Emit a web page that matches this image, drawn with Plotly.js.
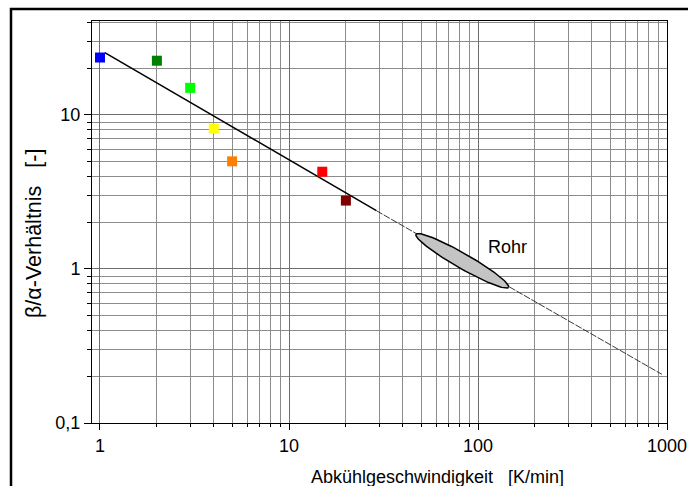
<!DOCTYPE html>
<html><head><meta charset="utf-8">
<script src="https://cdn.plot.ly/plotly-3.0.1.min.js"></script>
<style>html,body{margin:0;padding:0;background:#fff}</style>
</head><body><div id="chart" style="width:688px;height:486px"></div>
<script>
// ---- data ----
const pointX = [1, 2, 3, 4, 5, 15, 20];
const pointY = [23.6, 22.5, 15.0, 8.15, 5.0, 4.28, 2.78];
const pointColors = ['#0000FF', '#008000', '#00FF00', '#FFFF00', '#FF8000', '#FF0000', '#800000'];
const fitSolidX = [1.06, 29];
const fitSolidY = [25.4, 2.39];
const fitThinX = [29, 940];
const fitThinY = [2.39, 0.207];
const ellipseTipX = [47, 145];
const ellipseTipY = [1.68, 0.76];
const ellipseWidthRatio = 0.14;
const labelRohr = 'Rohr';
const labelRohrX = 144;
const labelRohrY = 1.39;
const xTickVals = [1, 10, 100, 1000];
const xTickText = ['1', '10', '100', '1000'];
const yTickVals = [0.1, 1, 10];
const yTickText = ['0,1', '1', '10'];
const xTitle = 'Abkühlgeschwindigkeit\u00a0\u00a0\u00a0[K/min]';
const yTitle = 'β/α-Verhältnis\u00a0\u00a0\u00a0[-]';

// ---- layout geometry ----
const W = 688, H = 486;
const M = {l: 92, r: 21, t: 21, b: 63};
const xRange = [-0.0423, 3.0];
const yRange = [-1, 1.61];
const plotW = W - M.l - M.r, plotH = H - M.t - M.b;

function minorVals(lo, hi) {
  const out = [];
  for (let d = lo; d <= hi; d++) {
    for (let k = 2; k <= 9; k++) out.push(k * Math.pow(10, d));
  }
  return out;
}
const xMinor = minorVals(0, 2);
const yMinor = minorVals(-1, 1).filter(v => v <= 40);

// ellipse outline in screen-proportional log space
function ellipsePoints() {
  const sx = plotW / (xRange[1] - xRange[0]);
  const sy = plotH / (yRange[1] - yRange[0]);
  const u = ellipseTipX.map(v => Math.log10(v) * sx);
  const w = ellipseTipY.map(v => Math.log10(v) * sy);
  const cu = (u[0] + u[1]) / 2, cw = (w[0] + w[1]) / 2;
  const a = Math.hypot(u[1] - u[0], w[1] - w[0]) / 2;
  const b = a * ellipseWidthRatio;
  const th = Math.atan2(w[1] - w[0], u[1] - u[0]);
  const xs = [], ys = [];
  for (let i = 0; i <= 120; i++) {
    const t = 2 * Math.PI * i / 120;
    const pu = cu + a * Math.cos(t) * Math.cos(th) - b * Math.sin(t) * Math.sin(th);
    const pw = cw + a * Math.cos(t) * Math.sin(th) + b * Math.sin(t) * Math.cos(th);
    xs.push(Math.pow(10, pu / sx));
    ys.push(Math.pow(10, pw / sy));
  }
  return {xs, ys};
}
const ell = ellipsePoints();

const font = 'Arial, "Liberation Sans", sans-serif';

const traces = [
  {x: fitSolidX, y: fitSolidY, mode: 'lines', line: {color: '#000', width: 1.5}, hoverinfo: 'skip'},
  {x: fitThinX, y: fitThinY, mode: 'lines', line: {color: '#222', width: 0.9, dash: '7px,1.5px'}, hoverinfo: 'skip'},
  {x: ell.xs, y: ell.ys, mode: 'lines', fill: 'toself', fillcolor: '#C4C4C4', line: {color: '#000', width: 1.5}},
  {x: pointX, y: pointY, mode: 'markers', marker: {symbol: 'square', size: 10, color: pointColors, line: {width: 0}}}
];

const axisCommon = {
  type: 'log', showline: true, mirror: true, linecolor: '#000', linewidth: 1,
  showgrid: true, gridcolor: '#6e6e6e', gridwidth: 1, zeroline: false,
  tickmode: 'array', ticks: 'outside', tickcolor: '#000', tickwidth: 1,
  tickfont: {family: font, size: 18, color: '#000'}
};

const layout = {
  width: W, height: H, margin: M, showlegend: false,
  paper_bgcolor: '#fff', plot_bgcolor: '#fff',
  font: {family: font, size: 18, color: '#000'},
  xaxis: Object.assign({}, axisCommon, {
    range: xRange, tickvals: xTickVals, ticktext: xTickText, ticklen: 6,
    minor: {tickmode: 'array', tickvals: xMinor, ticks: 'outside', ticklen: 3, tickcolor: '#000',
            showgrid: true, gridcolor: '#8c8c8c', gridwidth: 1}
  }),
  yaxis: Object.assign({}, axisCommon, {
    range: yRange, tickvals: yTickVals, ticktext: yTickText, ticklen: 7,
    minor: {tickmode: 'array', tickvals: yMinor, ticks: 'outside', ticklen: 4, tickcolor: '#000',
            showgrid: true, gridcolor: '#8c8c8c', gridwidth: 1}
  }),
  annotations: [
    {x: Math.log10(labelRohrX), y: Math.log10(labelRohrY), xref: 'x', yref: 'y', text: labelRohr,
     showarrow: false, font: {family: font, size: 18, color: '#000'}},
    {x: (437.5 - M.l) / plotW, y: (H - M.b - 477) / plotH, xref: 'paper', yref: 'paper', text: xTitle,
     showarrow: false, xanchor: 'center', yanchor: 'middle', font: {family: font, size: 18, color: '#000'}},
    {x: (34 - M.l) / plotW, y: (H - M.b - 234) / plotH, xref: 'paper', yref: 'paper', text: yTitle, textangle: -90,
     showarrow: false, xanchor: 'center', yanchor: 'middle', font: {family: font, size: 21.5, color: '#000'}}
  ],
  shapes: [
    {type: 'rect', xref: 'paper', yref: 'paper', layer: 'above',
     x0: (11 - M.l) / plotW, x1: 1.3, y0: -0.4, y1: (H - M.b - 9) / plotH,
     line: {color: '#000', width: 2.5}, fillcolor: 'rgba(0,0,0,0)'}
  ]
};

Plotly.newPlot('chart', traces, layout, {staticPlot: true, displayModeBar: false});
</script>
</body></html>
